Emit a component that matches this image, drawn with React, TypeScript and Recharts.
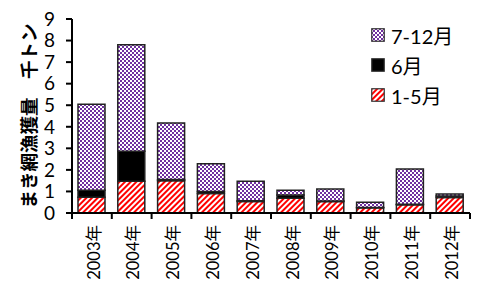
import React from 'react';
import { BarChart, Bar, XAxis, YAxis } from 'recharts';

const years = ['2003年', '2004年', '2005年', '2006年', '2007年', '2008年', '2009年', '2010年', '2011年', '2012年'];
const janToMay = [0.73, 1.47, 1.5, 0.91, 0.53, 0.69, 0.53, 0.24, 0.38, 0.72];
const june = [0.32, 1.39, 0.05, 0.09, 0.04, 0.14, 0.03, 0.02, 0.03, 0.07];
const julToDec = [4.0, 4.94, 2.62, 1.29, 0.9, 0.22, 0.55, 0.24, 1.63, 0.09];
const yTicks = [0, 1, 2, 3, 4, 5, 6, 7, 8, 9];

const data = years.map((year, i) => ({
  year,
  a: janToMay[i],
  b: june[i],
  c: julToDec[i],
}));

// legend order as in the picture (top to bottom)
const legendItems = [
  { name: '7-12月', fill: 'url(#checker)' },
  { name: '6月', fill: '#000' },
  { name: '1-5月', fill: 'url(#stripes)' },
];

const FONT = "Lato, 'Noto Sans CJK JP', sans-serif";
const PLOT_LEFT = 72;
const PLOT_RIGHT = 470;
const BAND = (PLOT_RIGHT - PLOT_LEFT) / years.length;

const YearTick = (props: any) => {
  const { x, y, payload, index } = props;
  const last = index === years.length - 1;
  return (
    <g transform={`translate(${x},${y})`}>
      <line x1={-BAND / 2} y1={0} x2={-BAND / 2} y2={6} stroke="#000" strokeWidth={2} />
      {last && <line x1={BAND / 2} y1={0} x2={BAND / 2} y2={6} stroke="#000" strokeWidth={2} />}
      <text
        x={-12}
        y={2}
        transform="rotate(-90)"
        textAnchor="end"
        dy="0.35em"
        fontSize={16.5}
        fontFamily={FONT}
        fill="#000"
      >
        {payload.value}
      </text>
    </g>
  );
};

export default function App() {
  return (
    <div style={{ position: 'absolute', left: 0, top: 0, width: 480, height: 289, background: '#fff' }}>
      <svg width={0} height={0} style={{ position: 'absolute' }}>
        <defs>
          <pattern id="stripes" patternUnits="userSpaceOnUse" width={4} height={4} patternTransform="rotate(45)">
            <rect width={4} height={4} fill="#fff" />
            <rect width={2} height={4} fill="#ff0000" />
          </pattern>
          <pattern id="checker" patternUnits="userSpaceOnUse" width={4} height={4}>
            <rect width={4} height={4} fill="#fff" />
            <rect x={0} y={0} width={2} height={2} fill="#7030a0" />
            <rect x={2} y={2} width={2} height={2} fill="#7030a0" />
          </pattern>
        </defs>
      </svg>
      <BarChart
        width={480}
        height={289}
        data={data}
        margin={{ top: 19, right: 10, left: 0, bottom: 0 }}
        barSize={27}
      >
        <XAxis
          dataKey="year"
          height={76}
          interval={0}
          tickSize={0}
          tickMargin={0}
          tickLine={false}
          axisLine={{ stroke: '#000', strokeWidth: 2 }}
          tick={<YearTick />}
        />
        <YAxis
          width={72}
          domain={[0, 9]}
          ticks={yTicks}
          interval={0}
          tickSize={6}
          tickMargin={11}
          axisLine={{ stroke: '#000', strokeWidth: 2 }}
          tickLine={{ stroke: '#000', strokeWidth: 2 }}
          tick={{ fontSize: 19, fill: '#000', fontFamily: FONT }}
          label={{
            value: 'まき網漁獲量　千トン',
            angle: -90,
            position: 'insideLeft',
            dx: 24,
            dy: 0,
            style: { fontSize: 18.5, fontWeight: 'bold', fill: '#000', fontFamily: FONT, textAnchor: 'middle' },
          }}
        />
        <Bar dataKey="a" name="1-5月" stackId="s" fill="url(#stripes)" stroke="#222" strokeWidth={1.5} isAnimationActive={false} />
        <Bar dataKey="b" name="6月" stackId="s" fill="#000" stroke="#222" strokeWidth={1.5} isAnimationActive={false} />
        <Bar dataKey="c" name="7-12月" stackId="s" fill="url(#checker)" stroke="#222" strokeWidth={1.5} isAnimationActive={false} />
      </BarChart>
      <div style={{ position: 'absolute', left: 371, top: 20, fontFamily: FONT }}>
        {legendItems.map((item) => (
          <div key={item.name} style={{ display: 'flex', alignItems: 'center', height: 30 }}>
            <svg width={14} height={14} style={{ marginRight: 6 }}>
              <rect x={0.75} y={0.75} width={12.5} height={12.5} fill={item.fill} stroke="#333" strokeWidth={1.2} />
            </svg>
            <span style={{ fontSize: 20, color: '#000' }}>{item.name}</span>
          </div>
        ))}
      </div>
    </div>
  );
}
